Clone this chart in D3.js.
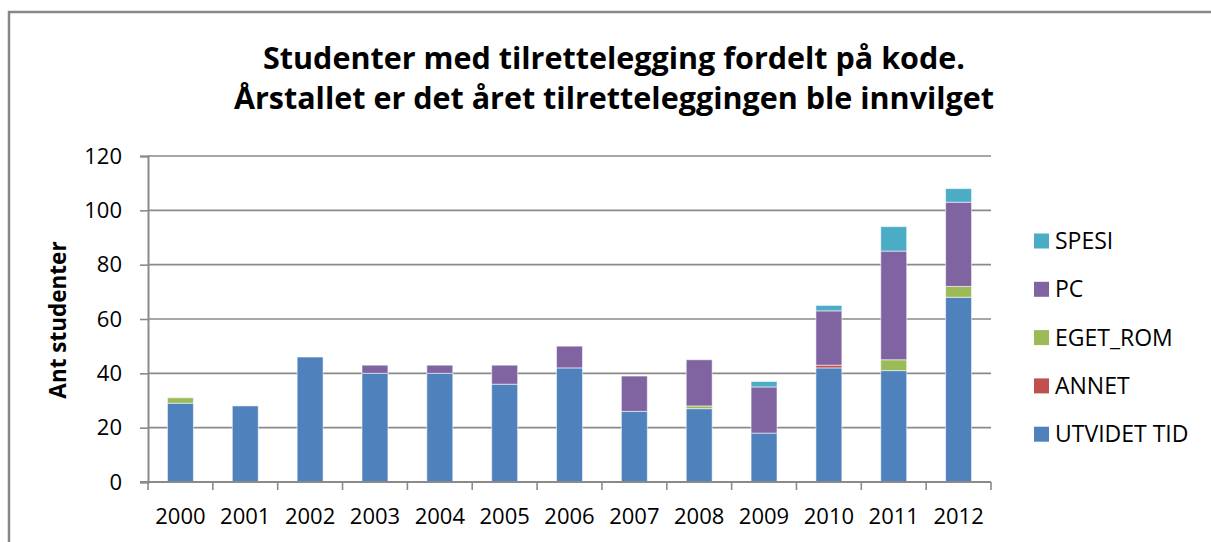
<!DOCTYPE html>
<html>
<head>
<meta charset="utf-8">
<script src="https://cdn.jsdelivr.net/npm/d3@7"></script>
<style>
  body { margin: 0; background: #fff; }
  text { font-family: "Open Sans", sans-serif; fill: #000; }
</style>
</head>
<body>
<div id="chart"></div>
<script>
// data
var years = ["2000", "2001", "2002", "2003", "2004", "2005", "2006", "2007", "2008", "2009", "2010", "2011", "2012"];
var utvidetTid = [29, 28, 46, 40, 40, 36, 42, 26, 27, 18, 42, 41, 68];
var annet = [0, 0, 0, 0, 0, 0, 0, 0, 0, 0, 1, 0, 0];
var egetRom = [2, 0, 0, 0, 0, 0, 0, 0, 1, 0, 0, 4, 4];
var pc = [0, 0, 0, 3, 3, 7, 8, 13, 17, 17, 20, 40, 31];
var spesi = [0, 0, 0, 0, 0, 0, 0, 0, 0, 2, 2, 9, 5];
var seriesNames = ["UTVIDET TID", "ANNET", "EGET_ROM", "PC", "SPESI"];
var yTicks = [0, 20, 40, 60, 80, 100, 120];

var colors = {
  "UTVIDET TID": "#4f81bd",
  "ANNET": "#c0504d",
  "EGET_ROM": "#9bbb59",
  "PC": "#8064a2",
  "SPESI": "#4bacc6"
};

var svgWidth = 1211;
var svgHeight = 542;

var margin = { top: 156, right: 220, bottom: 60, left: 148 };
var width = 991 - margin.left;
var height = 482 - margin.top;

var svg = d3.select("#chart")
  .append("svg")
  .attr("width", svgWidth)
  .attr("height", svgHeight);

// outer frame
svg.append("rect")
  .attr("x", 9)
  .attr("y", 12)
  .attr("width", 1260)
  .attr("height", 600)
  .attr("fill", "none")
  .attr("stroke", "#878787")
  .attr("stroke-width", 2.5);

// title
var title = svg.append("text")
  .attr("text-anchor", "middle")
  .attr("font-weight", "bold")
  .attr("font-size", "30.5px");
title.append("tspan").attr("x", 614).attr("y", 69).text("Studenter med tilrettelegging fordelt på kode.");
title.append("tspan").attr("x", 614).attr("y", 109).text("Årstallet er det året tilretteleggingen ble innvilget");

var chartGroup = svg.append("g")
  .attr("transform", `translate(${margin.left}, ${margin.top})`);

// build table for stacking
var table = years.map(function(y, i) {
  return {
    year: y,
    "UTVIDET TID": utvidetTid[i],
    "ANNET": annet[i],
    "EGET_ROM": egetRom[i],
    "PC": pc[i],
    "SPESI": spesi[i]
  };
});

var stacked = d3.stack().keys(seriesNames)(table);

var xBand = d3.scaleBand()
  .domain(years)
  .range([0, width])
  .paddingInner(0.6)
  .paddingOuter(0.3);

var xCat = d3.scaleBand()
  .domain(years)
  .range([0, width])
  .padding(0);

var yLinearScale = d3.scaleLinear()
  .domain([0, 120])
  .range([height, 0]);

// gridlines
chartGroup.append("g")
  .selectAll("line")
  .data(yTicks.slice(1))
  .enter()
  .append("line")
  .attr("x1", 0)
  .attr("x2", width)
  .attr("y1", d => yLinearScale(d))
  .attr("y2", d => yLinearScale(d))
  .attr("stroke", "#8a8a8a")
  .attr("stroke-width", 1.6);

// y axis
var y_axis = d3.axisLeft(yLinearScale).tickValues(yTicks).tickSize(8).tickPadding(18);
var yAxisG = chartGroup.append("g").call(y_axis);
yAxisG.select(".domain").attr("stroke", "#8a8a8a").attr("stroke-width", 2);
yAxisG.selectAll(".tick line").attr("stroke", "#8a8a8a").attr("stroke-width", 1.6);
yAxisG.selectAll("text")
  .attr("font-size", "22px")
  .attr("font-family", "Open Sans")
  .attr("fill", "#000");

// bars
chartGroup.append("g")
  .selectAll("g")
  .data(stacked)
  .enter()
  .append("g")
  .attr("fill", d => colors[d.key])
  .selectAll("rect")
  .data(d => d.filter(p => p[1] - p[0] > 0))
  .enter()
  .append("rect")
  .attr("x", d => xBand(d.data.year))
  .attr("y", d => yLinearScale(d[1]))
  .attr("width", xBand.bandwidth())
  .attr("height", d => yLinearScale(d[0]) - yLinearScale(d[1]))
  .attr("stroke", "rgba(255,255,255,0.55)")
  .attr("stroke-width", 1);

// x axis with ticks between categories
var xAxisG = chartGroup.append("g")
  .attr("transform", `translate(0, ${height})`);

xAxisG.append("line")
  .attr("x1", -8)
  .attr("x2", width)
  .attr("stroke", "#8a8a8a")
  .attr("stroke-width", 2);

var edges = years.map(d => xCat(d)).concat([width]);
xAxisG.selectAll(".xtick")
  .data(edges)
  .enter()
  .append("line")
  .attr("class", "xtick")
  .attr("x1", d => d)
  .attr("x2", d => d)
  .attr("y1", 0)
  .attr("y2", 8)
  .attr("stroke", "#8a8a8a")
  .attr("stroke-width", 1.6);

xAxisG.selectAll(".xlabel")
  .data(years)
  .enter()
  .append("text")
  .attr("class", "xlabel")
  .attr("x", d => xCat(d) + xCat.bandwidth() / 2)
  .attr("y", 42)
  .attr("text-anchor", "middle")
  .attr("font-size", "22px")
  .text(d => d);

// y axis title
svg.append("text")
  .attr("transform", "translate(66, 320) rotate(-90)")
  .attr("text-anchor", "middle")
  .attr("font-weight", "bold")
  .attr("font-size", "22.5px")
  .text("Ant studenter");

// legend, top entry is the top series
var legendItems = seriesNames.slice().reverse();
var legend = svg.append("g")
  .selectAll("g")
  .data(legendItems)
  .enter()
  .append("g")
  .attr("transform", (d, i) => `translate(1034, ${241 + i * 48.3})`);

legend.append("rect")
  .attr("x", 0)
  .attr("y", -7.5)
  .attr("width", 15)
  .attr("height", 15)
  .attr("fill", d => colors[d]);

legend.append("text")
  .attr("x", 21)
  .attr("y", 0)
  .attr("dy", "0.35em")
  .attr("font-size", "23px")
  .text(d => d);
</script>
</body>
</html>
